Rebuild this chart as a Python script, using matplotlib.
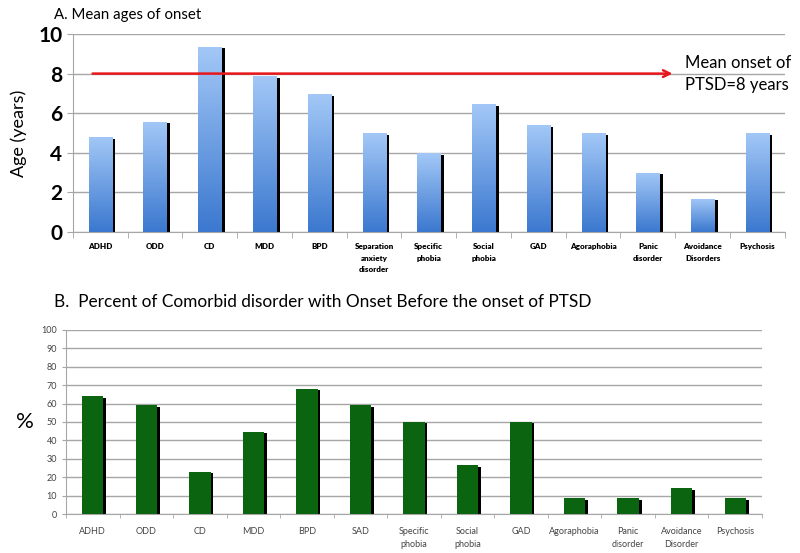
import matplotlib.pyplot as plt
import numpy as np
from matplotlib.colors import LinearSegmentedColormap

top_labels = ['ADHD', 'ODD', 'CD', 'MDD', 'BPD', 'Separation\nanxiety\ndisorder',
              'Specific\nphobia', 'Social\nphobia', 'GAD', 'Agoraphobia',
              'Panic\ndisorder', 'Avoidance\nDisorders', 'Psychosis']
onset_ages = [4.8, 5.57, 9.36, 7.88, 6.95, 5.0, 3.97, 6.46, 5.39, 5.0, 3.0, 1.68, 5.0]
ptsd_onset = 8

bottom_labels = ['ADHD', 'ODD', 'CD', 'MDD', 'BPD', 'SAD', 'Specific\nphobia',
                 'Social\nphobia', 'GAD', 'Agoraphobia', 'Panic\ndisorder',
                 'Avoidance\nDisorder', 'Psychosis']
pct_before = [64, 59, 23, 44.7, 68, 59, 50, 26.6, 50, 8.5, 8.5, 14, 8.5]

plt.rcParams['font.family'] = ['Lato', 'DejaVu Sans']

fig = plt.figure(figsize=(8, 5.53), dpi=100)
ax1 = fig.add_axes([0.091, 0.5805, 0.89, 0.358])
ax2 = fig.add_axes([0.0825, 0.0705, 0.87, 0.3328])

grid_c = '#a6a6a6'

# --- panel A ---
x = np.arange(len(onset_ages))
w = 0.42
ax1.bar(x + w / 2 + 0.03, np.array(onset_ages) - 0.08, width=0.07, color='black', zorder=2)
bars = ax1.bar(x, onset_ages, width=w, color='none', zorder=3)
cmap = LinearSegmentedColormap.from_list('blu', ['#3b78cf', '#a3c8f7'])
grad = np.linspace(0, 1, 256).reshape(-1, 1)
for b in bars:
    bx, by = b.get_x(), b.get_y()
    im = ax1.imshow(grad, cmap=cmap, origin='lower', aspect='auto',
                    extent=[bx, bx + b.get_width(), by, by + b.get_height()], zorder=3)
    im.set_clip_path(b)
ax1.set_xlim(-0.5, len(onset_ages) - 0.5)
ax1.set_ylim(0, 10)
ax1.set_yticks(range(0, 11, 2))
ax1.tick_params(axis='y', labelsize=15, length=4, color=grid_c)
for t in ax1.get_yticklabels():
    t.set_fontweight('bold')
ax1.set_xticks(x)
ax1.set_xticklabels(top_labels, fontsize=5.8, fontweight='heavy', linespacing=1.75)
ax1.set_xticks(np.arange(-0.5, len(onset_ages)), minor=True)
ax1.tick_params(axis='x', which='major', length=0, pad=8)
ax1.tick_params(axis='x', which='minor', length=4, color=grid_c)
ax1.grid(axis='y', color=grid_c, lw=1)
ax1.set_axisbelow(True)
for s in ['top', 'right']:
    ax1.spines[s].set_visible(False)
ax1.spines['left'].set_color(grid_c)
ax1.spines['bottom'].set_color(grid_c)
ax1.set_ylabel('Age (years)', fontsize=13, labelpad=8)
ax1.annotate('', xy=(10.5, ptsd_onset), xytext=(-0.19, ptsd_onset),
             arrowprops=dict(arrowstyle='->', color='#e8171b', lw=1.8, mutation_scale=12),
             zorder=4)
ax1.text(10.67, ptsd_onset, 'Mean onset of\nPTSD=8 years', fontsize=12,
         va='center', ha='left', linespacing=1.45)
fig.text(0.068, 0.972, 'A. Mean ages of onset', fontsize=10.8, va='center')

# --- panel B ---
w2 = 0.4
ax2.bar(x + w2 / 2 + 0.02, np.array(pct_before) - 0.8, width=0.06, color='black', zorder=2)
ax2.bar(x, pct_before, width=w2, color='#0b640f', zorder=3)
ax2.set_xlim(-0.5, len(pct_before) - 0.5)
ax2.set_ylim(0, 100)
ax2.set_yticks(range(0, 101, 10))
ax2.tick_params(axis='y', labelsize=6.5, length=3, color=grid_c, labelcolor='#444444')
ax2.set_xticks(x)
ax2.set_xticklabels(bottom_labels, fontsize=6.5, color='#444444', linespacing=1.6)
ax2.set_xticks(np.arange(-0.5, len(pct_before)), minor=True)
ax2.tick_params(axis='x', which='major', length=0, pad=9)
ax2.tick_params(axis='x', which='minor', length=3, color=grid_c)
ax2.grid(axis='y', color=grid_c, lw=1)
ax2.set_axisbelow(True)
for s in ['top', 'right']:
    ax2.spines[s].set_visible(False)
ax2.spines['left'].set_color(grid_c)
ax2.spines['bottom'].set_color(grid_c)
ax2.set_ylabel('%', fontsize=16, rotation=0, labelpad=12, va='center')
fig.text(0.068, 0.453, 'B.  Percent of Comorbid disorder with Onset Before the onset of PTSD',
         fontsize=12.4, va='center')

fig.savefig('out.png', dpi=100)
